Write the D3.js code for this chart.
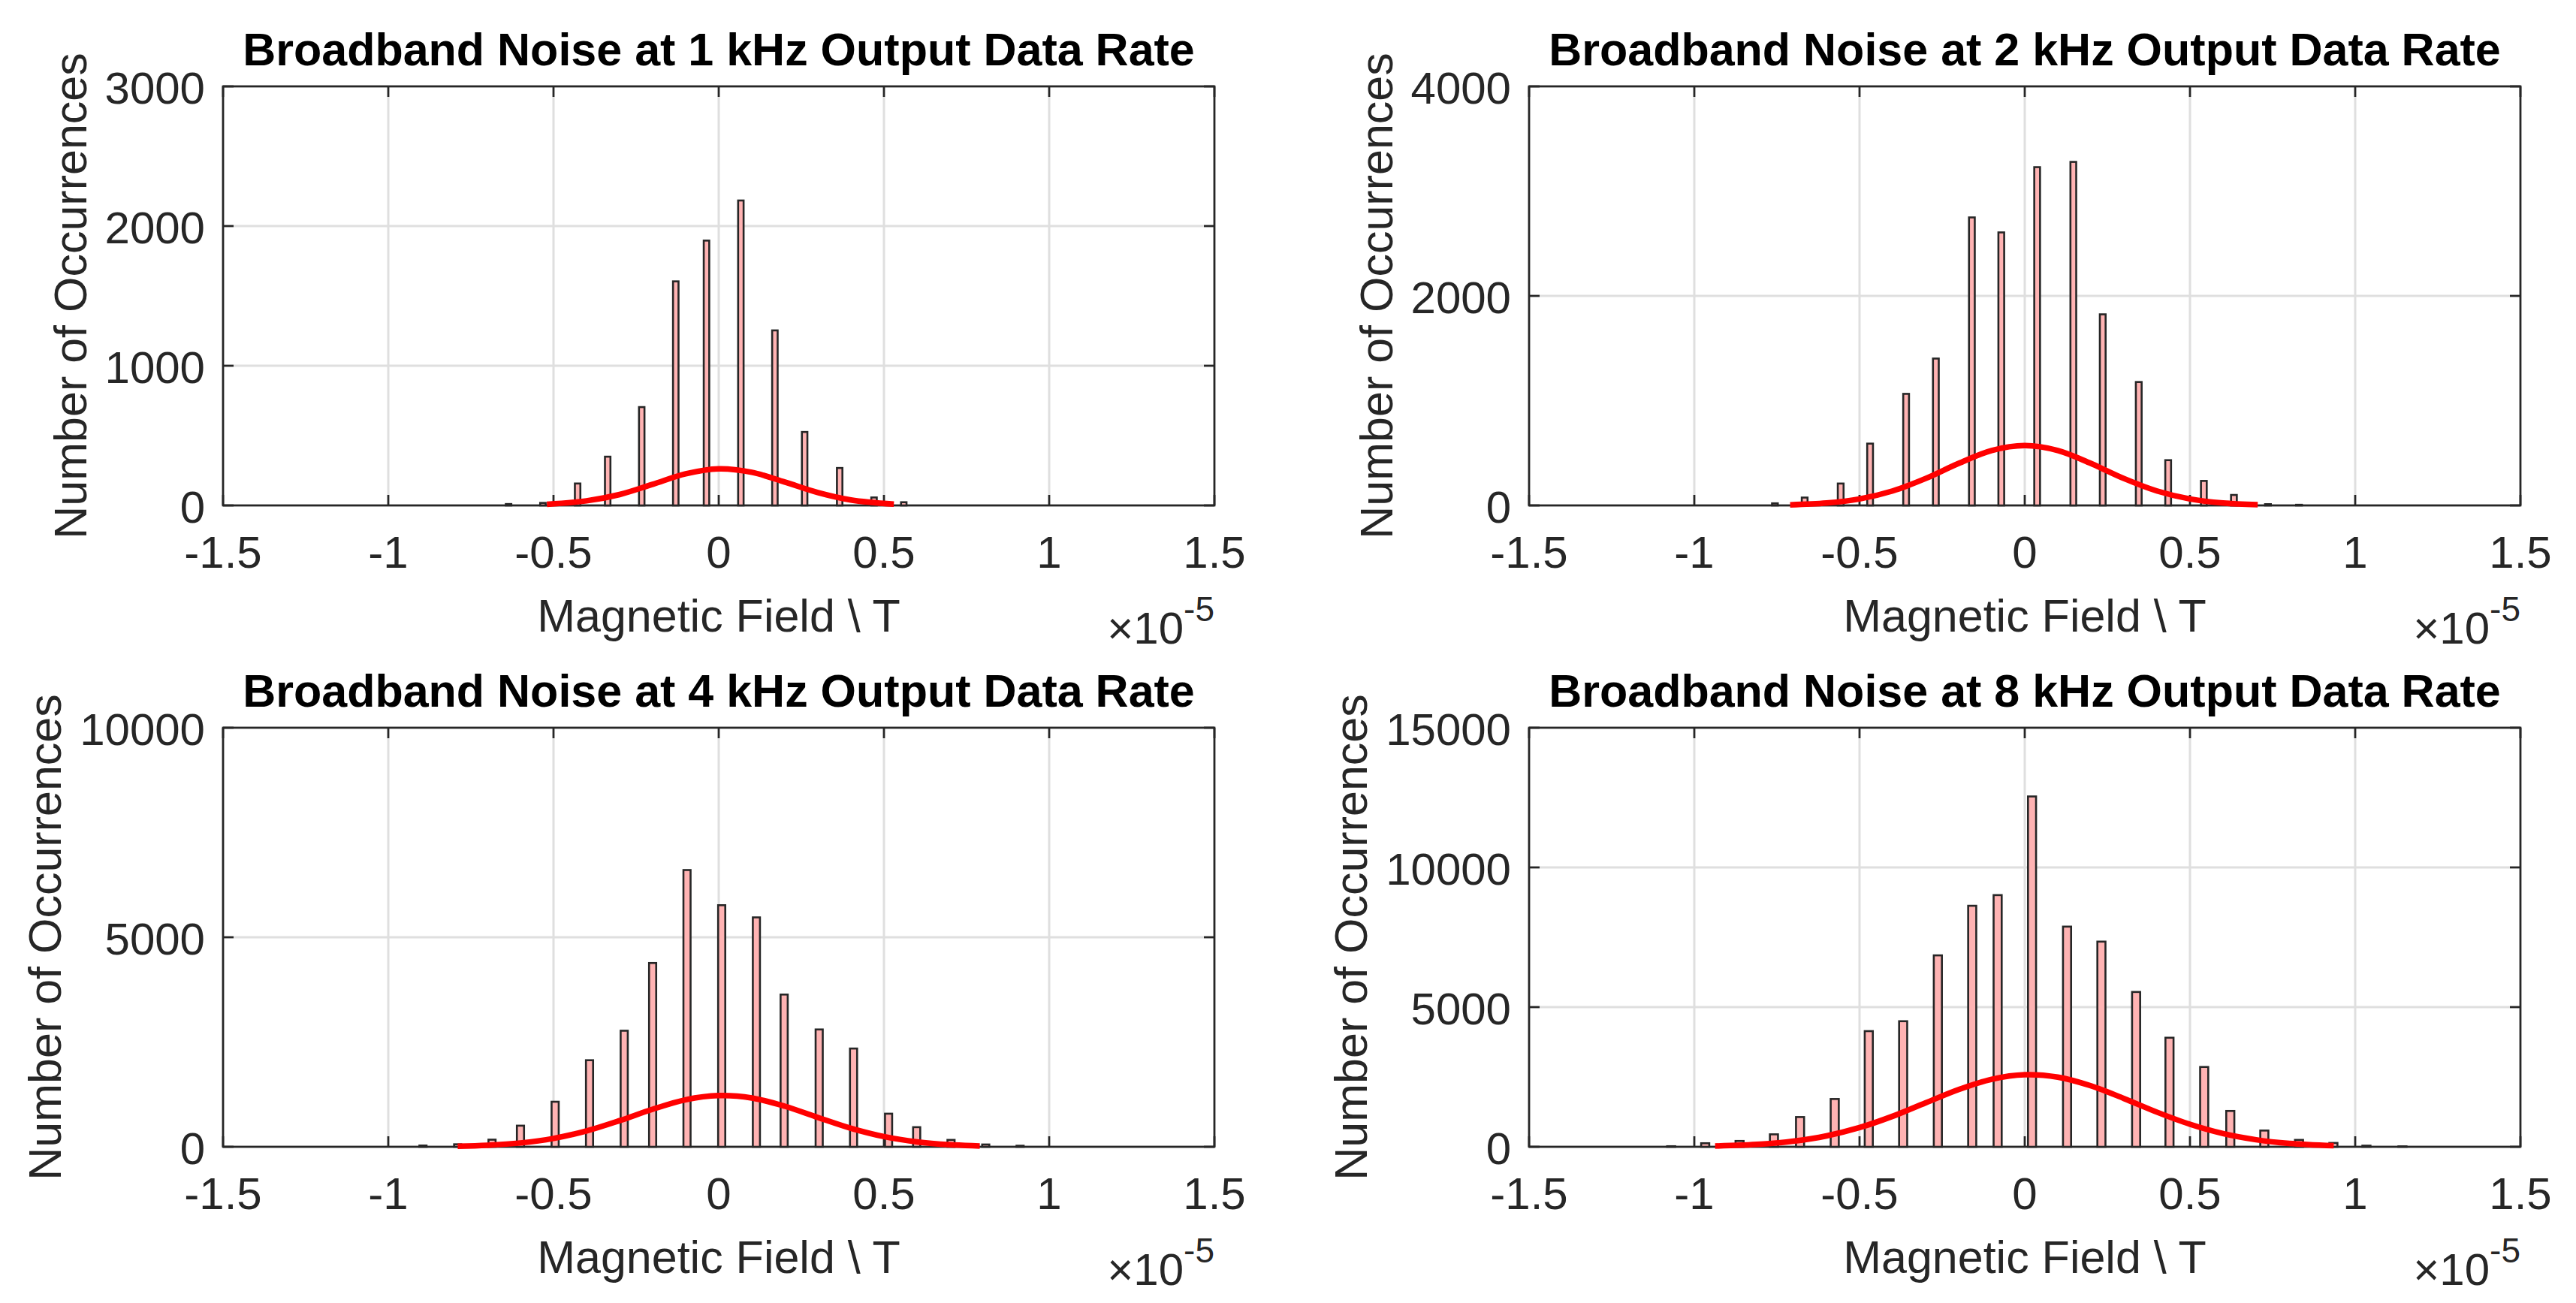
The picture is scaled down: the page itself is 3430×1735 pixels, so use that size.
<!DOCTYPE html>
<html>
<head>
<meta charset="utf-8">
<script src="https://cdn.jsdelivr.net/npm/d3@7"></script>
<style>
  body { margin: 0; background: #fff; }
  svg { display: block; }
  text { font-family: "Liberation Sans", Arial, Helvetica, sans-serif; }
</style>
</head>
<body>
<div id="chart"></div>
<script>
// ---- Data (x values in units of 1e-5 T) ----
const titles = [
  "Broadband Noise at 1 kHz Output Data Rate",
  "Broadband Noise at 2 kHz Output Data Rate",
  "Broadband Noise at 4 kHz Output Data Rate",
  "Broadband Noise at 8 kHz Output Data Rate"
];
const xLabel = "Magnetic Field \\ T";
const yLabel = "Number of Occurrences";
const xTicks = [-1.5, -1, -0.5, 0, 0.5, 1, 1.5];
const xTickLabels = ["-1.5", "-1", "-0.5", "0", "0.5", "1", "1.5"];

const yTicks1k = [0, 1000, 2000, 3000];
const yTicks2k = [0, 2000, 4000];
const yTicks4k = [0, 5000, 10000];
const yTicks8k = [0, 5000, 10000, 15000];

// histogram bin width, same units as x
const binWidths = [0.0166, 0.0175, 0.0216, 0.0245];

const binCenters1k = [-0.636, -0.532, -0.427, -0.336, -0.233, -0.130, -0.037, 0.067, 0.170, 0.260, 0.366, 0.470, 0.560];
const binCounts1k  = [10, 18, 157, 349, 704, 1604, 1896, 2183, 1253, 526, 268, 57, 23];

const binCenters2k = [-0.756, -0.666, -0.557, -0.468, -0.359, -0.269, -0.160, -0.071, 0.0375, 0.147, 0.236, 0.345, 0.434, 0.542, 0.633, 0.736, 0.830];
const binCounts2k  = [20, 75, 209, 590, 1065, 1402, 2749, 2606, 3229, 3279, 1824, 1178, 432, 234, 100, 12, 6];

const binCenters4k = [-0.895, -0.790, -0.686, -0.600, -0.495, -0.391, -0.286, -0.200, -0.096, 0.009, 0.114, 0.198, 0.304, 0.408, 0.514, 0.599, 0.703, 0.808, 0.912];
const binCounts4k  = [30, 60, 170, 504, 1075, 2066, 2770, 4386, 6604, 5765, 5474, 3633, 2800, 2345, 790, 468, 164, 55, 25];

const binCenters8k = [-1.07, -0.967, -0.863, -0.759, -0.680, -0.575, -0.472, -0.368, -0.263, -0.159, -0.082, 0.022, 0.128, 0.232, 0.337, 0.438, 0.543, 0.622, 0.725, 0.830, 0.934, 1.034, 1.143];
const binCounts8k  = [20, 127, 209, 446, 1065, 1711, 4140, 4495, 6852, 8627, 9009, 12540, 7881, 7344, 5542, 3904, 2857, 1283, 582, 246, 137, 40, 15];

// fitted normal curves
const fitX1k = [-0.52, -0.4, -0.3, -0.2, -0.1, 0, 0.1, 0.2, 0.3, 0.4, 0.53];
const fitY1k = [8, 33, 78, 151, 226, 262, 237, 167, 92, 39, 9];

const fitX2k = [-0.71, -0.6, -0.5, -0.4, -0.3, -0.2, -0.1, 0, 0.1, 0.2, 0.3, 0.4, 0.5, 0.6, 0.705];
const fitY2k = [6, 23, 62, 138, 257, 401, 524, 571, 524, 401, 257, 138, 62, 23, 7];

const fitX4k = [-0.79, -0.7, -0.6, -0.5, -0.4, -0.3, -0.2, -0.1, 0, 0.1, 0.2, 0.3, 0.4, 0.5, 0.6, 0.7, 0.79];
const fitY4k = [15, 37, 92, 200, 379, 624, 896, 1123, 1222, 1166, 968, 700, 441, 243, 117, 49, 20];

const fitX8k = [-0.937, -0.8, -0.7, -0.6, -0.5, -0.4, -0.3, -0.2, -0.1, 0, 0.1, 0.2, 0.3, 0.4, 0.5, 0.6, 0.7, 0.8, 0.935];
const fitY8k = [28, 94, 202, 391, 687, 1092, 1572, 2049, 2417, 2581, 2495, 2184, 1730, 1240, 806, 473, 252, 121, 39];

// ---- Layout ----
const width = 3430;
const height = 1735;
const plotW = 1320;
const plotH = 558;
const cols = [297, 2036];
const rows = [115, 969];

const axisColor = "#262626";
const gridColor = "#dfdfdf";
const tickLen = 14;

const panels = [
  { title: titles[0], yTicks: yTicks1k, centers: binCenters1k, counts: binCounts1k, fitX: fitX1k, fitY: fitY1k, bw: binWidths[0], left: cols[0], top: rows[0] },
  { title: titles[1], yTicks: yTicks2k, centers: binCenters2k, counts: binCounts2k, fitX: fitX2k, fitY: fitY2k, bw: binWidths[1], left: cols[1], top: rows[0] },
  { title: titles[2], yTicks: yTicks4k, centers: binCenters4k, counts: binCounts4k, fitX: fitX4k, fitY: fitY4k, bw: binWidths[2], left: cols[0], top: rows[1] },
  { title: titles[3], yTicks: yTicks8k, centers: binCenters8k, counts: binCounts8k, fitX: fitX8k, fitY: fitY8k, bw: binWidths[3], left: cols[1], top: rows[1] }
];

const svg = d3
  .select("#chart")
  .append("svg")
  .attr("width", width)
  .attr("height", height)
  .style("background", "#fff");

panels.forEach(p => drawPanel(p));

function drawPanel(p) {
  const g = svg.append("g").attr("transform", `translate(${p.left},${p.top})`);

  const x = d3.scaleLinear().domain([xTicks[0], xTicks[xTicks.length - 1]]).range([0, plotW]);
  const y = d3.scaleLinear().domain([p.yTicks[0], p.yTicks[p.yTicks.length - 1]]).range([plotH, 0]);

  // grid
  g.selectAll(".xgrid")
    .data(xTicks)
    .enter()
    .append("line")
    .attr("x1", d => x(d)).attr("x2", d => x(d))
    .attr("y1", 0).attr("y2", plotH)
    .attr("stroke", gridColor)
    .attr("stroke-width", 3);

  g.selectAll(".ygrid")
    .data(p.yTicks)
    .enter()
    .append("line")
    .attr("x1", 0).attr("x2", plotW)
    .attr("y1", d => y(d)).attr("y2", d => y(d))
    .attr("stroke", gridColor)
    .attr("stroke-width", 3);

  // box
  g.append("rect")
    .attr("width", plotW)
    .attr("height", plotH)
    .attr("fill", "none")
    .attr("stroke", axisColor)
    .attr("stroke-width", 2.7);

  // inward ticks on all four sides
  const xt = g.append("g");
  xTicks.forEach(t => {
    xt.append("line").attr("x1", x(t)).attr("x2", x(t)).attr("y1", plotH).attr("y2", plotH - tickLen);
    xt.append("line").attr("x1", x(t)).attr("x2", x(t)).attr("y1", 0).attr("y2", tickLen);
  });
  p.yTicks.forEach(t => {
    xt.append("line").attr("x1", 0).attr("x2", tickLen).attr("y1", y(t)).attr("y2", y(t));
    xt.append("line").attr("x1", plotW).attr("x2", plotW - tickLen).attr("y1", y(t)).attr("y2", y(t));
  });
  xt.selectAll("line").attr("stroke", axisColor).attr("stroke-width", 2.7);

  // tick labels
  g.selectAll(".xlab")
    .data(xTicks)
    .enter()
    .append("text")
    .attr("x", d => x(d))
    .attr("y", plotH + 83)
    .attr("text-anchor", "middle")
    .attr("font-size", 60)
    .attr("fill", axisColor)
    .text((d, i) => xTickLabels[i]);

  const yLabs = g.selectAll(".ylab")
    .data(p.yTicks)
    .enter()
    .append("text")
    .attr("x", -24)
    .attr("y", d => y(d) + 23)
    .attr("text-anchor", "end")
    .attr("font-size", 60)
    .attr("fill", axisColor)
    .text(d => d);

  let maxW = 0;
  yLabs.each(function() { maxW = Math.max(maxW, this.getBBox().width); });

  // histogram bars
  g.selectAll(".bar")
    .data(p.centers)
    .enter()
    .append("rect")
    .attr("x", d => x(d - p.bw / 2))
    .attr("width", x(p.bw) - x(0))
    .attr("y", (d, i) => y(p.counts[i]))
    .attr("height", (d, i) => y(0) - y(p.counts[i]))
    .attr("fill", "#ffb3b3")
    .attr("stroke", axisColor)
    .attr("stroke-width", 2.6);

  // fitted curve
  const line = d3.line()
    .x(d => x(d[0]))
    .y(d => y(d[1]))
    .curve(d3.curveCatmullRom);

  g.append("path")
    .datum(d3.zip(p.fitX, p.fitY))
    .attr("d", line)
    .attr("fill", "none")
    .attr("stroke", "#ff0000")
    .attr("stroke-width", 7.5);

  // title
  g.append("text")
    .attr("x", plotW / 2)
    .attr("y", -28)
    .attr("text-anchor", "middle")
    .attr("font-size", 61)
    .attr("font-weight", "bold")
    .attr("fill", "#000")
    .text(p.title);

  // axis labels
  g.append("text")
    .attr("x", plotW / 2)
    .attr("y", plotH + 168)
    .attr("text-anchor", "middle")
    .attr("font-size", 61)
    .attr("fill", axisColor)
    .text(xLabel);

  g.append("text")
    .attr("transform", `translate(${-(24 + maxW + 25)},${plotH / 2}) rotate(-90)`)
    .attr("text-anchor", "middle")
    .attr("font-size", 61)
    .attr("fill", axisColor)
    .text(yLabel);

  // exponent
  const ex = g.append("text")
    .attr("x", plotW)
    .attr("y", plotH + 184)
    .attr("text-anchor", "end")
    .attr("font-size", 60)
    .attr("fill", axisColor);
  ex.append("tspan").text("\u00d710");
  ex.append("tspan").attr("dy", -30).attr("font-size", 46).text("-5");
}
</script>
</body>
</html>
